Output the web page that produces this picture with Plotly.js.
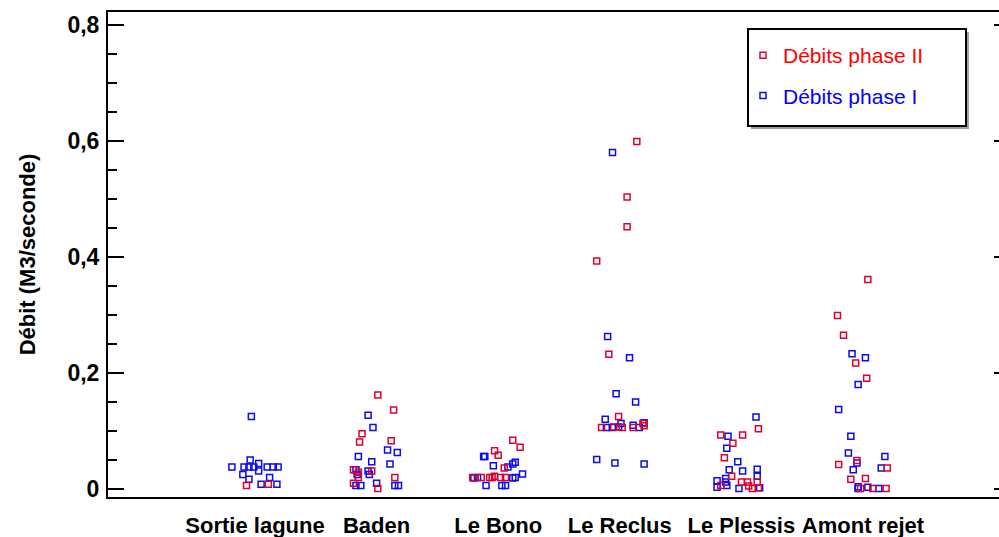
<!DOCTYPE html>
<html>
<head>
<meta charset="utf-8">
<script src="https://cdn.plot.ly/plotly-3.0.1.min.js"></script>
<style>
html,body{margin:0;padding:0;overflow:hidden;background:#fff;width:999px;height:537px;}
#chart{width:1020px;height:537px;}
</style>
</head>
<body>
<div id="chart"></div>
<script>
// Categories (sites)
const categories = ["Sortie lagune", "Baden", "Le Bono", "Le Reclus", "Le Plessis", "Amont rejet"];
const yTickValues = [0, 0.2, 0.4, 0.6, 0.8];

// Débits phase II (red)
const phase2Site   = [0,0,
  1,1,1,1,1,1,1,1,1,1,1,1,
  2,2,2,2,2,2,2,2,2,2,2,2,
  3,3,3,3,3,3,3,3,3,3,3,3,
  4,4,4,4,4,4,4,4,4,4,4,4,4,
  5,5,5,5,5,5,5,5,5,5,5,5,5];
const phase2Jitter = [-0.07,0.11,
  0.01,0.14,-0.12,-0.14,0.12,-0.19,-0.15,-0.04,-0.15,0.15,-0.19,0.01,
  0.12,0.18,-0.03,0.00,0.05,-0.21,-0.14,-0.07,-0.05,-0.03,0.02,0.06,
  0.14,0.06,0.06,-0.19,-0.09,-0.01,-0.15,-0.05,0.02,0.11,0.19,0.20,
  -0.17,0.01,0.14,-0.07,-0.14,-0.08,0.00,0.05,0.13,-0.17,0.06,0.09,0.14,
  0.04,-0.21,-0.16,-0.06,0.03,-0.20,-0.05,0.20,-0.10,0.02,-0.02,0.08,0.19];
const phase2Value  = [0.006,0.008,
  0.162,0.136,0.095,0.081,0.083,0.033,0.029,0.031,0.020,0.020,0.010,0.001,
  0.084,0.072,0.066,0.058,0.036,0.020,0.020,0.020,0.020,0.022,0.020,0.020,
  0.599,0.503,0.452,0.393,0.232,0.125,0.106,0.107,0.106,0.106,0.113,0.109,
  0.093,0.093,0.104,0.079,0.054,0.022,0.012,0.012,0.012,0.006,0.005,0.001,0.002,
  0.361,0.299,0.265,0.217,0.191,0.042,0.049,0.036,0.017,0.018,0.001,0.001,0.001];

// Débits phase I (blue)
const phase1Site   = [0,0,0,0,0,0,0,0,0,0,0,0,0,0,0,0,
  1,1,1,1,1,1,1,1,1,1,1,1,1,1,1,1,
  2,2,2,2,2,2,2,2,2,2,2,2,2,2,
  3,3,3,3,3,3,3,3,3,3,3,3,3,3,3,3,
  4,4,4,4,4,4,4,4,4,4,4,4,4,4,4,
  5,5,5,5,5,5,5,5,5,5,5,5,5,5];
const phase1Jitter = [-0.03,-0.04,-0.19,-0.09,-0.05,-0.01,0.03,0.03,0.10,0.15,0.19,-0.10,-0.05,0.12,0.05,0.18,
  -0.07,-0.03,-0.15,0.09,0.17,-0.04,0.11,-0.17,-0.07,-0.16,-0.06,-0.17,-0.13,0.00,0.15,0.18,
  -0.12,-0.11,-0.04,0.08,0.12,0.14,0.20,-0.20,-0.17,0.12,0.14,-0.10,0.03,0.06,
  -0.06,-0.10,0.08,-0.03,0.13,-0.12,0.01,0.11,0.20,-0.11,-0.06,-0.01,0.16,-0.19,-0.04,0.20,
  0.12,-0.11,-0.12,-0.03,-0.10,0.01,0.13,0.13,-0.20,-0.13,-0.13,-0.20,-0.12,-0.02,0.15,
  -0.09,0.02,-0.04,-0.20,-0.10,-0.12,0.18,-0.05,-0.08,0.15,-0.04,-0.04,0.04,0.13];
const phase1Value  = [0.125,0.050,0.038,0.038,0.038,0.038,0.044,0.031,0.038,0.038,0.038,0.025,0.017,0.020,0.008,0.008,
  0.127,0.106,0.056,0.067,0.063,0.047,0.043,0.033,0.031,0.025,0.025,0.006,0.006,0.010,0.006,0.006,
  0.056,0.056,0.040,0.038,0.043,0.046,0.026,0.019,0.020,0.019,0.020,0.006,0.006,0.006,
  0.580,0.263,0.226,0.164,0.150,0.120,0.113,0.110,0.114,0.106,0.106,0.107,0.106,0.051,0.045,0.043,
  0.124,0.091,0.070,0.047,0.033,0.031,0.034,0.022,0.014,0.018,0.012,0.003,0.006,0.001,0.002,
  0.233,0.226,0.180,0.137,0.091,0.062,0.056,0.045,0.033,0.036,0.004,0.001,0.003,0.001];

const FONT = "Liberation Sans, Arial, Helvetica, sans-serif";
const xs = (site, jit) => site.map((s, i) => s + jit[i]);

const tracePhase1 = {
  type: "scatter", mode: "markers",
  x: xs(phase1Site, phase1Jitter), y: phase1Value,
  name: '<span style="color:#0000ff">Débits phase I</span>',
  legendgroup: "p1", legendrank: 2,
  marker: {symbol: "square-open", size: 6, color: "#0a0af0", line: {width: 1.5, color: "#0a0af0"}},
  hoverinfo: "y"
};
const tracePhase2 = {
  type: "scatter", mode: "markers",
  x: xs(phase2Site, phase2Jitter), y: phase2Value,
  name: '<span style="color:#ff0000">Débits phase II</span>',
  legendgroup: "p2", legendrank: 1,
  marker: {symbol: "square-open", size: 6, color: "#dc0030", line: {width: 1.5, color: "#dc0030"}},
  hoverinfo: "y"
};

const L = 108, R = 1010, T = 12, B = 497;
const pw = R - L, ph = B - T;
const px = v => (v - L) / pw;
const py = v => 1 - (v - T) / ph;

const layout = {
  width: 1020, height: 537,
  margin: {l: L, r: 1020 - R, t: T, b: 537 - B, pad: 0},
  paper_bgcolor: "#ffffff", plot_bgcolor: "#ffffff",
  separators: ", ",
  font: {family: FONT, color: "#000"},
  showlegend: true,
  legend: {
    x: px(743), y: py(35), xanchor: "left", yanchor: "top",
    bgcolor: "rgba(0,0,0,0)", borderwidth: 0,
    traceorder: "grouped", tracegroupgap: 10,
    font: {family: FONT, size: 21}
  },
  xaxis: {
    range: [-1.209, 6.209],
    tickvals: categories.map((c, i) => i),
    ticktext: categories,
    ticks: "", showgrid: false, zeroline: false,
    showline: true, linecolor: "#000", linewidth: 2, mirror: true,
    tickfont: {family: FONT, size: 22, weight: "bold", color: "#000"},
    ticklabelstandoff: 8
  },
  yaxis: {
    range: [-0.0138, 0.822],
    tickvals: yTickValues,
    ticks: "inside", ticklen: 16, tickwidth: 1.5, tickcolor: "#000",
    minor: {dtick: 0.05, tick0: 0, ticks: "inside", ticklen: 9, tickwidth: 1.5, tickcolor: "#000", showgrid: false},
    showgrid: false, zeroline: false,
    showline: true, linecolor: "#000", linewidth: 2, mirror: "ticks",
    tickfont: {family: FONT, size: 23, weight: "bold", color: "#000"},
    ticklabelstandoff: 2,
    title: {text: "Débit (M3/seconde)", font: {family: FONT, size: 22, weight: "bold", color: "#000"}, standoff: 26}
  },
  shapes: [
    {type: "rect", xref: "paper", yref: "paper", layer: "above",
     x0: px(751), x1: px(969), y0: py(129), y1: py(32),
     fillcolor: "#a0a0a0", line: {width: 0}},
    {type: "rect", xref: "paper", yref: "paper", layer: "above",
     x0: px(748), x1: px(966), y0: py(126), y1: py(29),
     fillcolor: "#ffffff", line: {width: 2, color: "#000"}}
  ]
};

Plotly.newPlot("chart", [tracePhase1, tracePhase2], layout, {displayModeBar: false, staticPlot: true});
</script>
</body>
</html>
